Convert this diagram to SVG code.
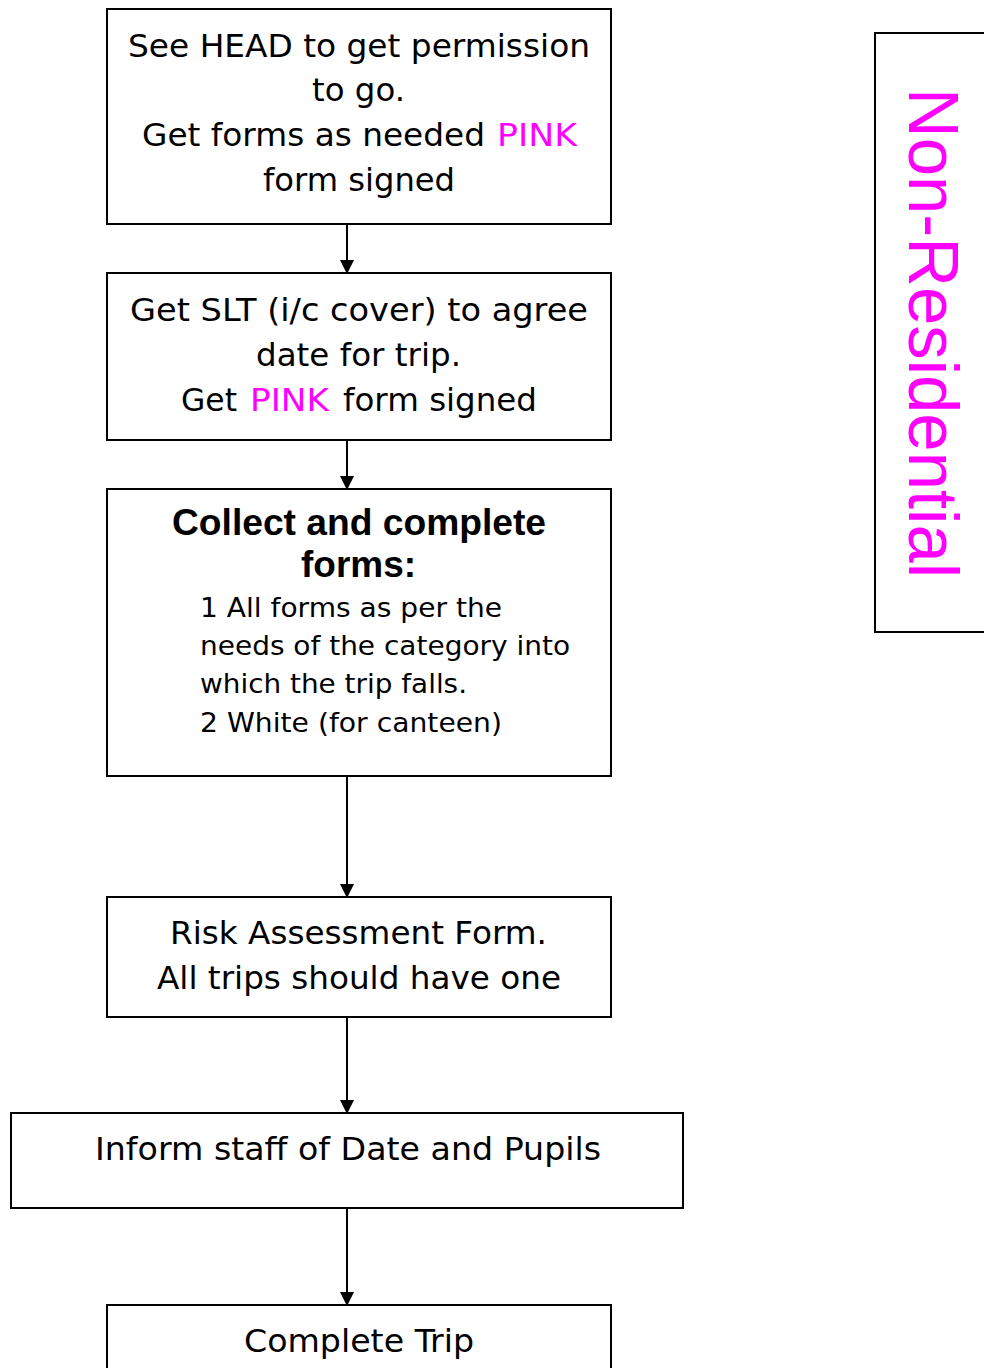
<svg xmlns="http://www.w3.org/2000/svg" width="984" height="1368" viewBox="0 0 984 1368">
<style>
.box{fill:#fff;stroke:#000;stroke-width:2}
.t{font-family:"DejaVu Sans","Liberation Sans",sans-serif;font-size:32px;fill:#000}
.s{font-family:"DejaVu Sans","Liberation Sans",sans-serif;font-size:27px;fill:#000}
.b{font-family:"Liberation Sans",Arial,sans-serif;font-size:36px;font-weight:bold;fill:#000}
.pink{fill:#ff00ff}
.side{font-family:"Liberation Sans",Arial,sans-serif;font-size:70px;fill:#ff00ff}
.conn{stroke:#000;stroke-width:2;fill:none;marker-end:url(#ah)}
</style>
<defs>
<marker id="ah" markerWidth="14" markerHeight="14" refX="12" refY="7" orient="auto" markerUnits="userSpaceOnUse">
<path d="M0,0 L14,7 L0,14 Z" fill="#000"/>
</marker>
</defs>
<rect width="984" height="1368" fill="#fff"/>
<g id="connectors">
<line class="conn" x1="347" y1="224" x2="347" y2="272"/>
<line class="conn" x1="347" y1="440" x2="347" y2="488"/>
<line class="conn" x1="347" y1="776" x2="347" y2="896"/>
<line class="conn" x1="347" y1="1017" x2="347" y2="1112"/>
<line class="conn" x1="347" y1="1208" x2="347" y2="1304"/>
</g>
<g id="node1">
<rect class="box" x="107" y="9" width="504" height="215"/>
<text class="t" x="128" y="57" textLength="462" lengthAdjust="spacingAndGlyphs">See HEAD to get permission</text>
<text class="t" x="312" y="101" textLength="93" lengthAdjust="spacingAndGlyphs">to go.</text>
<text class="t" x="142" y="146" textLength="343" lengthAdjust="spacingAndGlyphs">Get forms as needed</text>
<text class="t pink" x="497" y="146" textLength="80" lengthAdjust="spacingAndGlyphs">PINK</text>
<text class="t" x="263" y="191" textLength="192" lengthAdjust="spacingAndGlyphs">form signed</text>
</g>
<g id="node2">
<rect class="box" x="107" y="273" width="504" height="167"/>
<text class="t" x="130" y="321" textLength="458" lengthAdjust="spacingAndGlyphs">Get SLT (i/c cover) to agree</text>
<text class="t" x="256" y="366" textLength="205" lengthAdjust="spacingAndGlyphs">date for trip.</text>
<text class="t" x="181" y="411" textLength="56" lengthAdjust="spacingAndGlyphs">Get</text>
<text class="t pink" x="250" y="411" textLength="79" lengthAdjust="spacingAndGlyphs">PINK</text>
<text class="t" x="343" y="411" textLength="194" lengthAdjust="spacingAndGlyphs">form signed</text>
</g>
<g id="node3">
<rect class="box" x="107" y="489" width="504" height="287"/>
<text class="b" x="172" y="535" textLength="374" lengthAdjust="spacingAndGlyphs">Collect and complete</text>
<text class="b" x="301" y="577" textLength="115" lengthAdjust="spacingAndGlyphs">forms:</text>
<text class="s" x="200" y="617" textLength="302" lengthAdjust="spacingAndGlyphs">1 All forms as per the</text>
<text class="s" x="200" y="655" textLength="370" lengthAdjust="spacingAndGlyphs">needs of the category into</text>
<text class="s" x="200" y="693" textLength="267" lengthAdjust="spacingAndGlyphs">which the trip falls.</text>
<text class="s" x="200" y="732" textLength="302" lengthAdjust="spacingAndGlyphs">2 White (for canteen)</text>
</g>
<g id="node4">
<rect class="box" x="107" y="897" width="504" height="120"/>
<text class="t" x="170" y="944" textLength="377" lengthAdjust="spacingAndGlyphs">Risk Assessment Form.</text>
<text class="t" x="157" y="989" textLength="404" lengthAdjust="spacingAndGlyphs">All trips should have one</text>
</g>
<g id="node5">
<rect class="box" x="11" y="1113" width="672" height="95"/>
<text class="t" x="95" y="1160" textLength="506" lengthAdjust="spacingAndGlyphs">Inform staff of Date and Pupils</text>
</g>
<g id="node6">
<rect class="box" x="107" y="1305" width="504" height="80"/>
<text class="t" x="244" y="1352" textLength="230" lengthAdjust="spacingAndGlyphs">Complete Trip</text>
</g>
<g id="side-label">
<rect class="box" x="875" y="33" width="130" height="599"/>
<text class="side" transform="translate(909,88) rotate(90)" x="0" y="0" textLength="490" lengthAdjust="spacingAndGlyphs">Non-Residential</text>
</g>
</svg>
